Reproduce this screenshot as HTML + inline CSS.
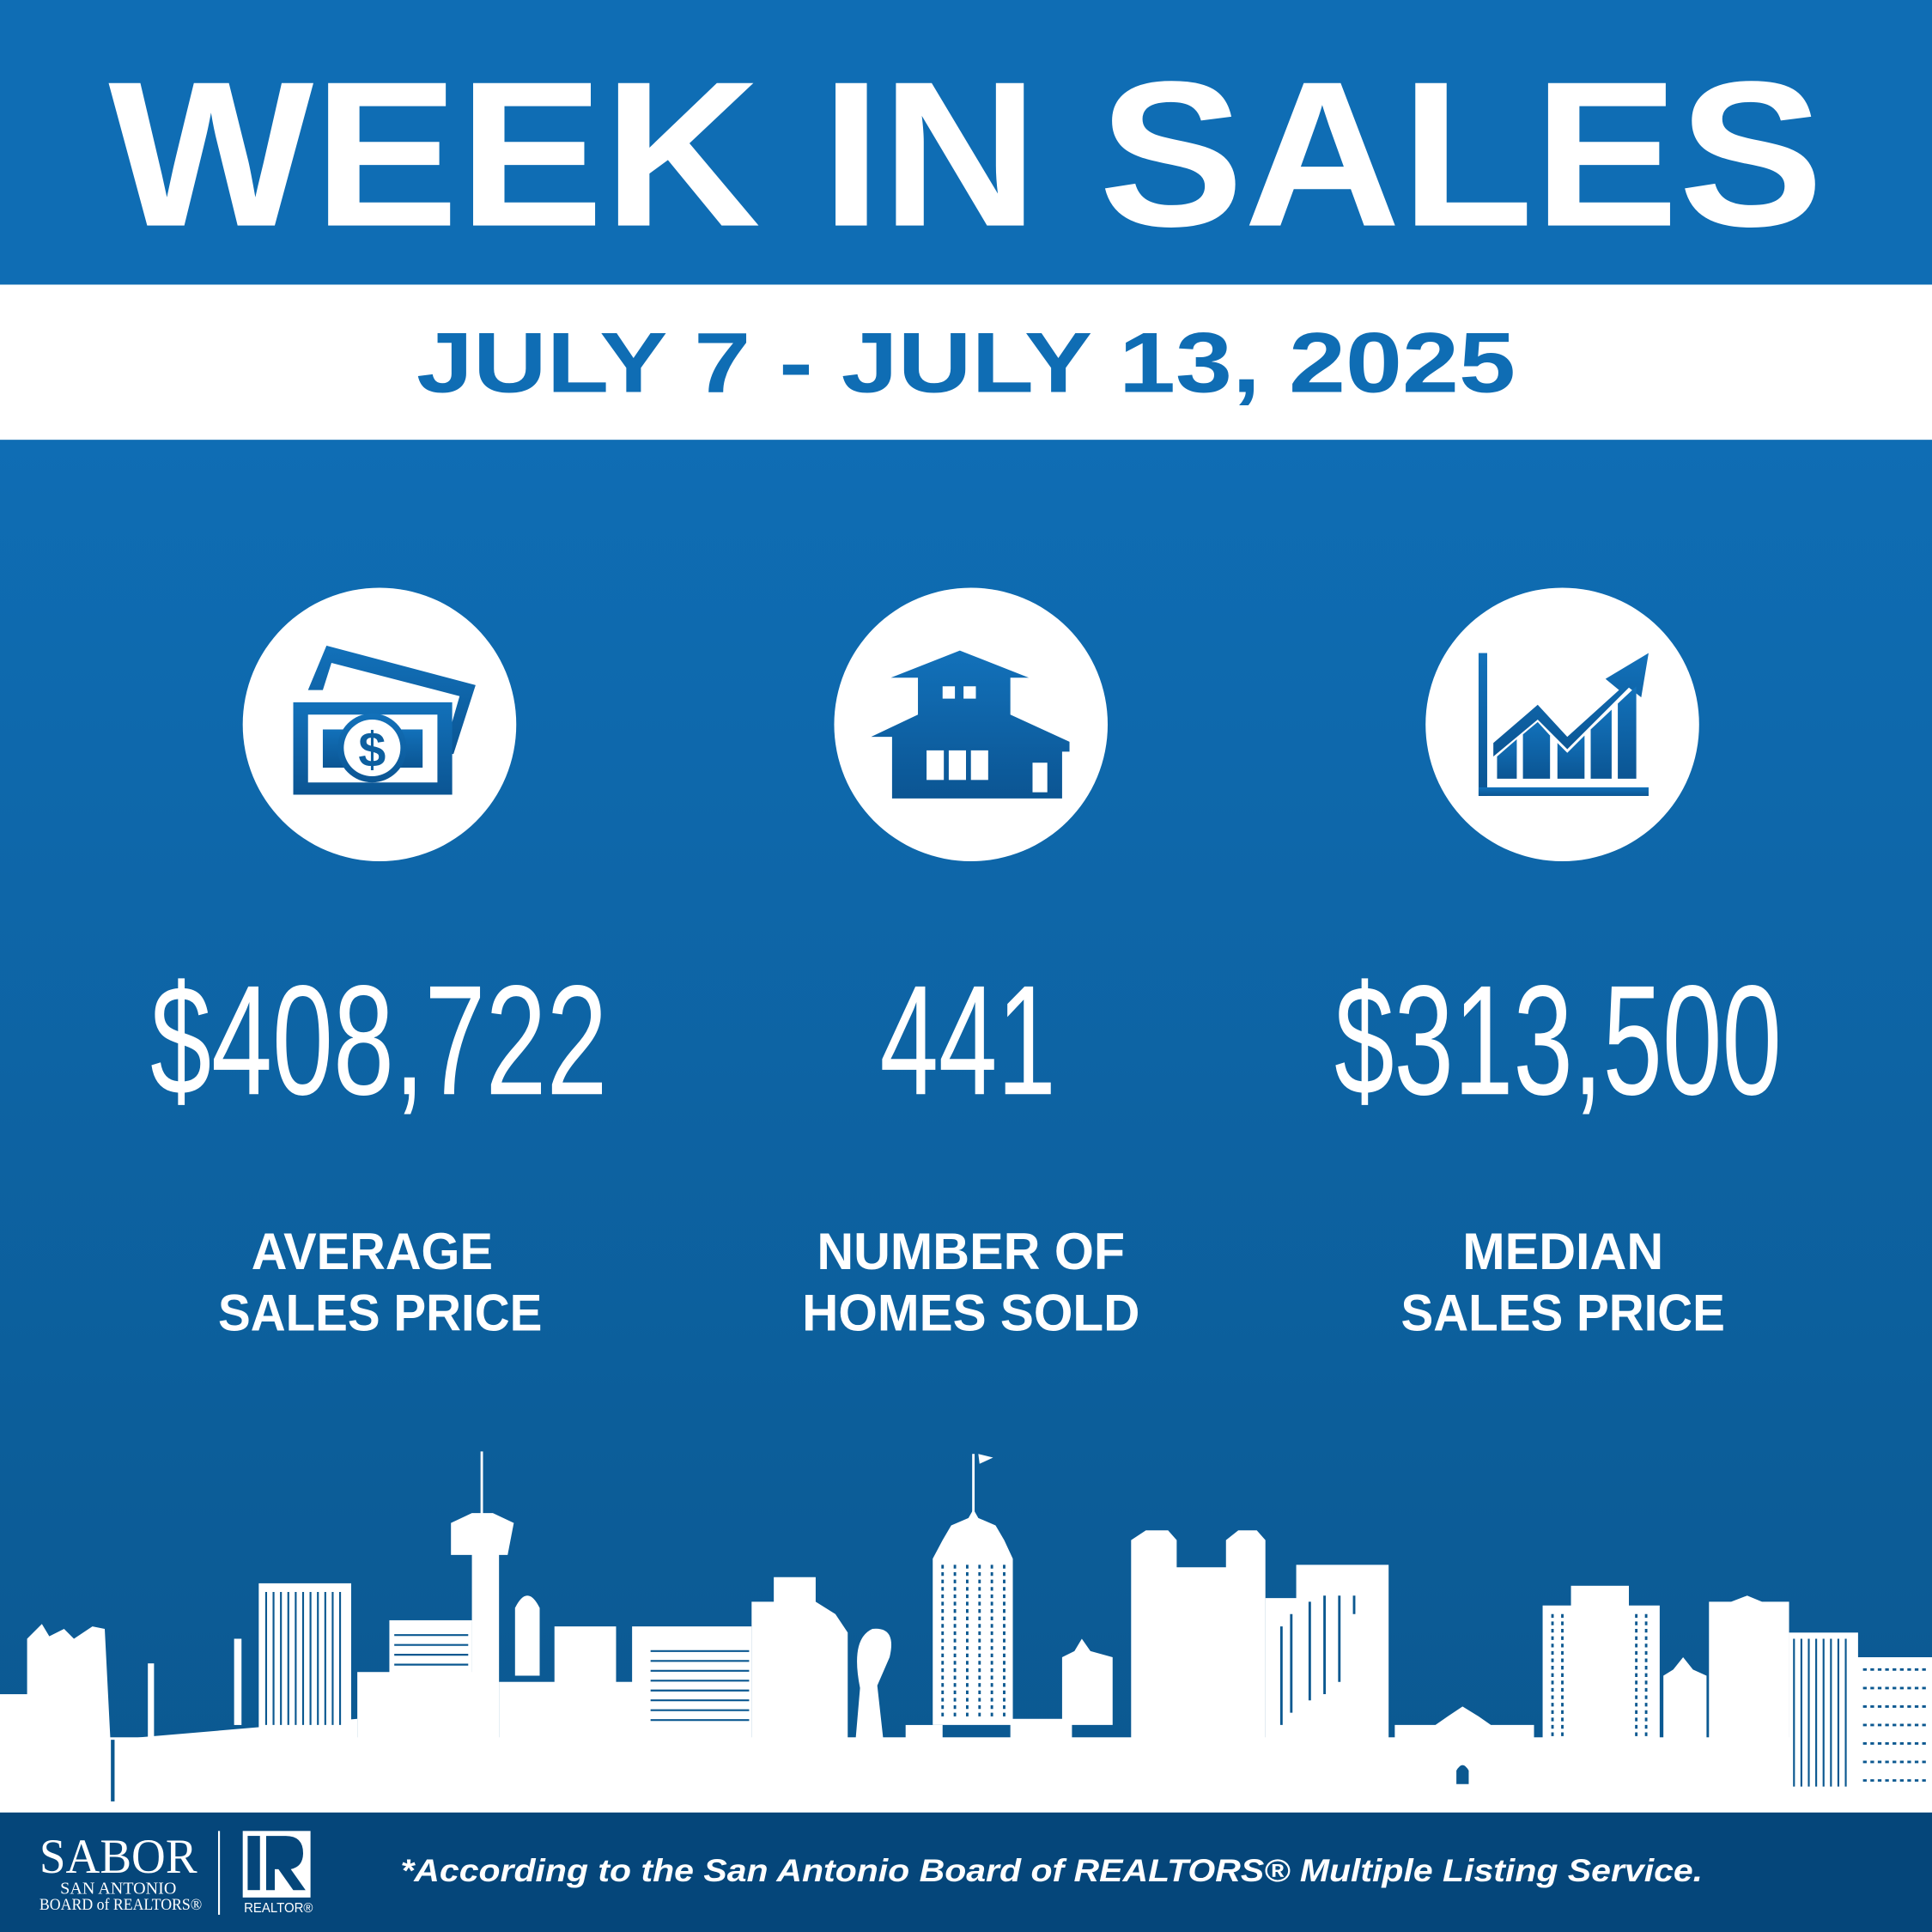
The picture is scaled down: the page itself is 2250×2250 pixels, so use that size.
<!DOCTYPE html>
<html><head><meta charset="utf-8"><style>
html,body{margin:0;padding:0;background:#0d5f9d}
svg{display:block}
</style></head><body>
<svg width="2250" height="2250" viewBox="0 0 1568 1568" xmlns="http://www.w3.org/2000/svg">
<defs>
<linearGradient id="bg" x1="0" y1="0" x2="0" y2="1">
<stop offset="0" stop-color="#0f6db4"/><stop offset="1" stop-color="#0b5890"/>
</linearGradient>
<linearGradient id="ic" x1="0" y1="0" x2="0" y2="1">
<stop offset="0" stop-color="#1271ba"/><stop offset="1" stop-color="#0b5593"/>
</linearGradient>
</defs>
<rect x="0" y="0" width="1568" height="231" fill="#0f6db4"/>
<rect x="0" y="231" width="1568" height="126" fill="#ffffff"/>
<rect x="0" y="357" width="1568" height="1114" fill="url(#bg)"/>
<rect x="0" y="1471" width="1568" height="97" fill="#05467a"/>

<text x="88" y="183" font-family="Liberation Sans" font-weight="bold" font-size="168" fill="#fff" textLength="1392" lengthAdjust="spacingAndGlyphs">WEEK IN SALES</text>
<text x="338" y="318" font-family="Liberation Sans" font-weight="bold" font-size="69" fill="#0f6db4" textLength="892" lengthAdjust="spacingAndGlyphs">JULY 7 - JULY 13, 2025</text>

<!-- circles -->
<circle cx="308" cy="588" r="111" fill="#fff"/>
<circle cx="788" cy="588" r="111" fill="#fff"/>
<circle cx="1268" cy="588" r="111" fill="#fff"/>

<!-- money icon -->
<g fill="url(#ic)">
<path d="M265 524 L386 556 L368 612 L360 610 L373 565 L269 538 L262 560 L250 560 Z"/>
<path d="M238 570 H367 V645 H238 Z"/>
</g>
<path d="M250 580 H355 V635 H250 Z" fill="#fff"/>
<path d="M262 592 H343 V623 H262 Z" fill="url(#ic)"/>
<circle cx="302" cy="607" r="28" fill="url(#ic)"/>
<circle cx="302" cy="607" r="23" fill="#fff"/>
<text x="302" y="622" text-anchor="middle" font-family="Liberation Sans" font-weight="bold" font-size="40" fill="#0d5f9f">$</text>

<!-- house icon -->
<g fill="url(#ic)">
<path d="M779 528 L835 550 L820 550 L820 580 L868 602 L868 610 L862 610 L862 648 L724 648 L724 598 L707 598 L745 580 L745 550 L723 550 Z"/>
</g>
<g fill="#fff">
<rect x="765" y="557" width="10" height="10"/><rect x="782" y="557" width="10" height="10"/>
<rect x="752" y="609" width="14" height="24"/><rect x="770" y="609" width="14" height="24"/><rect x="788" y="609" width="14" height="24"/>
<rect x="838" y="619" width="12" height="24"/>
</g>

<!-- chart icon -->
<g fill="url(#ic)">
<rect x="1200" y="530" width="7" height="116"/>
<rect x="1200" y="639" width="138" height="7"/>
<path d="M1212 603 L1248 572 L1272 598 L1314 560 L1303 551 L1338 530 L1332 566 L1322 558 L1272 608 L1248 584 L1212 614 Z"/>
<path d="M1215 632 V614 L1231 600 V632 Z"/>
<path d="M1236 632 V596 L1248 586 L1258 597 V632 Z"/>
<path d="M1264 632 V603 L1272 611 L1286 597 V632 Z"/>
<path d="M1291 632 V592 L1308 576 V632 Z"/>
<path d="M1313 632 V571 L1328 557 V632 Z"/>
</g>

<!-- numbers -->
<g font-family="Liberation Sans Narrow, Liberation Sans" font-size="127" fill="#fff">
<text x="122" y="888" textLength="371" lengthAdjust="spacingAndGlyphs">$408,722</text>
<text x="714" y="888" textLength="143" lengthAdjust="spacingAndGlyphs">441</text>
<text x="1083" y="888" textLength="363" lengthAdjust="spacingAndGlyphs">$313,500</text>
</g>
<g font-family="Liberation Sans" font-weight="bold" font-size="42" fill="#fff">
<text x="204" y="1030" textLength="196" lengthAdjust="spacingAndGlyphs">AVERAGE</text>
<text x="177" y="1080" textLength="263" lengthAdjust="spacingAndGlyphs">SALES PRICE</text>
<text x="663" y="1030" textLength="250" lengthAdjust="spacingAndGlyphs">NUMBER OF</text>
<text x="651" y="1080" textLength="274" lengthAdjust="spacingAndGlyphs">HOMES SOLD</text>
<text x="1187" y="1030" textLength="163" lengthAdjust="spacingAndGlyphs">MEDIAN</text>
<text x="1137" y="1080" textLength="263" lengthAdjust="spacingAndGlyphs">SALES PRICE</text>
</g>

<!-- skyline -->
<g fill="#fff">
<rect x="0" y="1410" width="1568" height="61"/>
<rect x="0" y="1375" width="25" height="40"/>
<path d="M22 1330 L34 1318 L40 1328 L52 1322 L60 1330 L75 1320 L85 1322 L90 1420 L22 1420 Z"/>
<path d="M90 1412 L290 1395 L290 1420 L90 1420 Z"/>
<rect x="120" y="1350" width="5" height="60"/>
<rect x="190" y="1330" width="6" height="70"/>
<rect x="210" y="1285" width="75" height="120"/>
<rect x="290" y="1357" width="95" height="60"/>
<rect x="316" y="1315" width="67" height="50"/>
<rect x="390" y="1178" width="2" height="55"/>
<path d="M366 1236 L383 1228 L400 1228 L417 1236 L412 1262 L366 1262 Z"/>
<rect x="383" y="1260" width="22" height="170"/>
<rect x="405" y="1365" width="110" height="60"/>
<path d="M418 1360 V1305 Q428 1285 438 1305 V1360 Z"/>
<rect x="450" y="1320" width="50" height="50"/>
<rect x="513" y="1320" width="97" height="100"/>
<path d="M610 1300 L628 1300 L628 1280 L662 1280 L662 1300 L678 1310 L688 1325 L688 1420 L610 1420 Z"/>
<path d="M692 1440 L698 1370 Q690 1330 708 1322 Q728 1320 722 1345 L712 1368 L720 1440 Z"/>
<rect x="735" y="1400" width="30" height="20"/>
<rect x="789" y="1180" width="2" height="50"/>
<path d="M794 1180 L806 1183 L795 1188 Z"/>
<path d="M757 1400 V1265 L765 1250 L772 1238 L786 1232 L790 1225 L794 1232 L808 1238 L815 1250 L822 1265 V1400 Z"/>
<rect x="820" y="1395" width="50" height="25"/>
<path d="M862 1400 V1345 L872 1340 L878 1330 L885 1340 L903 1345 V1400 Z"/>
<path d="M918 1250 L930 1242 L948 1242 L955 1250 V1272 L995 1272 V1250 L1005 1242 L1020 1242 L1027 1250 V1420 H918 Z"/>
<rect x="1027" y="1297" width="30" height="123"/>
<rect x="1052" y="1270" width="75" height="150"/>
<path d="M1132 1410 V1400 L1165 1400 L1175 1393 L1187 1385 L1200 1393 L1210 1400 L1245 1400 V1420 H1132 Z"/>
<rect x="1252" y="1303" width="95" height="120"/>
<rect x="1275" y="1287" width="47" height="30"/>
<path d="M1350 1420 V1360 L1358 1355 L1366 1345 L1374 1355 L1385 1360 V1420 Z"/>
<path d="M1387 1300 L1405 1300 L1418 1295 L1430 1300 L1452 1300 V1420 H1387 Z"/>
<rect x="1452" y="1325" width="56" height="130"/>
<rect x="1507" y="1345" width="61" height="115"/>
</g>
<!-- skyline detail stripes -->
<g stroke="#0b5890" stroke-width="1.5">
<path d="M216 1292 V1400 M222 1292 V1400 M228 1292 V1400 M234 1292 V1400 M240 1292 V1400 M246 1292 V1400 M252 1292 V1400 M258 1292 V1400 M264 1292 V1400 M270 1292 V1400 M276 1292 V1400"/>
<path d="M320 1327 H380 M320 1335 H380 M320 1343 H380 M320 1351 H380"/>
<path d="M528 1340 H608 M528 1348 H608 M528 1356 H608 M528 1364 H608 M528 1372 H608 M528 1380 H608 M528 1388 H608 M528 1396 H608"/>
<path d="M1456 1330 V1450 M1462 1330 V1450 M1468 1330 V1450 M1474 1330 V1450 M1480 1330 V1450 M1486 1330 V1450 M1492 1330 V1450 M1498 1330 V1450"/>
</g>
<g fill="none" stroke="#0b5890" stroke-width="2" stroke-dasharray="3 3">
<path d="M765 1270 V1395 M775 1270 V1395 M785 1270 V1395 M795 1270 V1395 M805 1270 V1395 M815 1270 V1395"/>
<path d="M1260 1310 V1410 M1268 1310 V1410 M1328 1310 V1410 M1336 1310 V1410"/>
<path d="M1512 1355 H1565 M1512 1370 H1565 M1512 1385 H1565 M1512 1400 H1565 M1512 1415 H1565 M1512 1430 H1565 M1512 1445 H1565"/>
</g>
<g stroke="#0b5890" stroke-width="2">
<path d="M1040 1320 V1400 M1048 1310 V1390 M1063 1300 V1380 M1075 1295 V1375 M1087 1295 V1365 M1099 1295 V1310"/>
</g>
<rect x="90" y="1412" width="3" height="50" fill="#0b5890"/>
<path d="M1182 1448 V1437 Q1187 1428 1192 1437 V1448 Z" fill="#0b5890"/>

<!-- footer -->
<text x="96" y="1520" text-anchor="middle" font-family="Liberation Serif" font-size="40" fill="#fff" textLength="128" lengthAdjust="spacingAndGlyphs">SABOR</text>
<text x="96" y="1537" text-anchor="middle" font-family="Liberation Serif" font-size="14" fill="#fff">SAN ANTONIO</text>
<text x="98" y="1550" text-anchor="middle" font-family="Liberation Serif" font-size="13" fill="#fff" textLength="132" lengthAdjust="spacingAndGlyphs">BOARD of REALTORS®</text>
<rect x="177" y="1486" width="1.5" height="68" fill="#fff"/>
<rect x="197" y="1486" width="55" height="54" fill="#fff"/>
<rect x="201" y="1490" width="10" height="44" fill="#05467a"/>
<path d="M216 1490 H232 Q246 1490 246 1504 Q246 1515 236 1517 L248 1534 H238 L226 1517 H223 V1534 H216 Z" fill="#05467a"/>
<text x="198" y="1552" font-family="Liberation Sans" font-size="11" fill="#fff" textLength="56" lengthAdjust="spacingAndGlyphs">REALTOR®</text>
<text x="325" y="1527" font-family="Liberation Sans" font-weight="bold" font-style="italic" font-size="26" fill="#fff" textLength="1057" lengthAdjust="spacingAndGlyphs">*According to the San Antonio Board of REALTORS® Multiple Listing Service.</text>
</svg>
</body></html>
